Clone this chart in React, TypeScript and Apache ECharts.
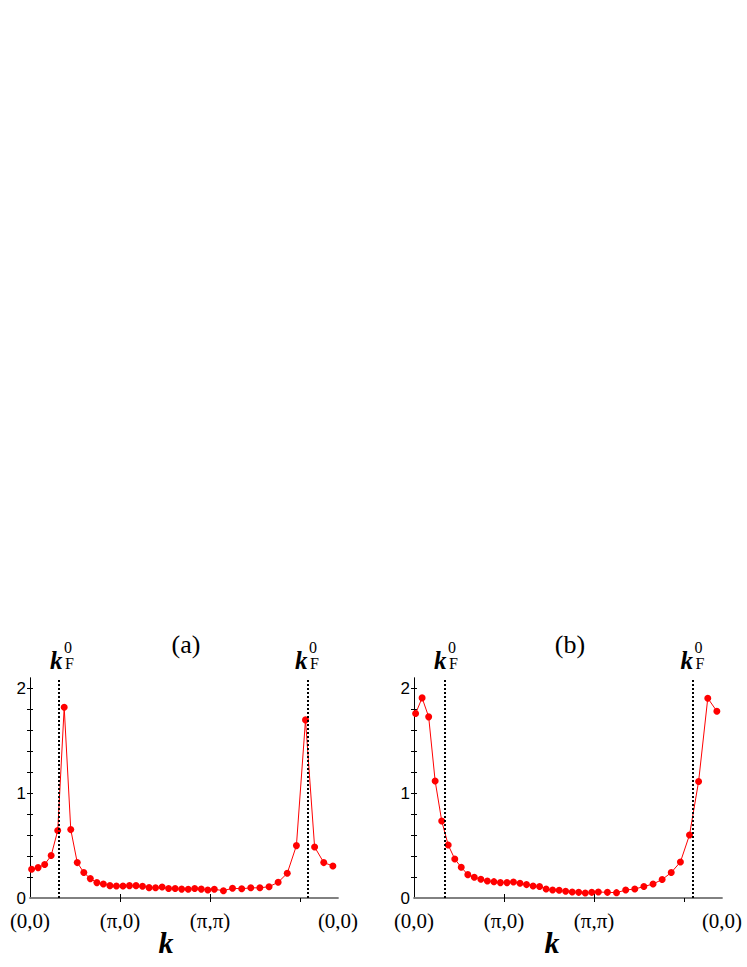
import React, { useEffect, useRef } from "react";
import * as echarts from "echarts";

// k-path position of each lattice point, in units where (π,0)=1, (π,π)=2
const kPathX = [
  0.018, 0.09, 0.163, 0.235, 0.308, 0.38, 0.453, 0.525, 0.598, 0.67, 0.743,
  0.815, 0.888, 0.96, 1.033, 1.105, 1.178, 1.25, 1.323, 1.395, 1.468, 1.54,
  1.613, 1.685, 1.758, 1.83, 1.903, 1.975, 2.048, 2.149, 2.25, 2.352, 2.453,
  2.554, 2.656, 2.757, 2.858, 2.96, 3.061, 3.162, 3.264, 3.365,
];

const valuesA = [
  0.274, 0.29, 0.32, 0.405, 0.644, 1.82, 0.653, 0.338, 0.243, 0.185, 0.147,
  0.134, 0.118, 0.115, 0.115, 0.118, 0.118, 0.112, 0.099, 0.097, 0.105, 0.09,
  0.09, 0.085, 0.083, 0.09, 0.085, 0.077, 0.083, 0.07, 0.093, 0.088, 0.097,
  0.097, 0.108, 0.15, 0.236, 0.5, 1.7, 0.487, 0.338, 0.306,
];

const valuesB = [
  1.761, 1.91, 1.729, 1.117, 0.735, 0.506, 0.372, 0.293, 0.223, 0.198, 0.179,
  0.162, 0.156, 0.147, 0.147, 0.153, 0.14, 0.128, 0.115, 0.109, 0.086, 0.076,
  0.074, 0.064, 0.057, 0.054, 0.048, 0.054, 0.057, 0.054, 0.051, 0.076, 0.086,
  0.109, 0.134, 0.176, 0.243, 0.344, 0.602, 1.112, 1.907, 1.783,
];

const fermiA = [0.322, 3.091];
const fermiB = [0.337, 3.097];

const xMax = 3.422;
const kTickValues = [0, 1, 2, 3.422];
const kTickLabels = ["(0,0)", "(π,0)", "(π,π)", "(0,0)"];
const bottomTickValues = [1, 2];
const topTickValues = [1, 2, 3];

const yMax = 2.1;
const yLabelValues = [0, 1, 2];
const yTickValues = [0.2, 0.4, 0.6, 0.8, 1, 1.2, 1.4, 1.6, 1.8, 2];

const panelTitles = ["(a)", "(b)"];

const SERIF = "'Liberation Serif', 'Times New Roman', serif";
const SANS = "'Liberation Sans', Arial, sans-serif";

function labelFor(v: number) {
  let best = 0;
  for (let i = 1; i < kTickValues.length; i++) {
    if (Math.abs(kTickValues[i] - v) < Math.abs(kTickValues[best] - v)) best = i;
  }
  return kTickLabels[best];
}

export default function App() {
  const ref = useRef<HTMLDivElement>(null);

  useEffect(() => {
    if (!ref.current) return;
    const chart = echarts.init(ref.current, null, { renderer: "svg" });

    const grids = [
      { left: 30, top: 678, width: 308, height: 220, outerBoundsMode: "none" },
      { left: 414, top: 678, width: 308, height: 220, outerBoundsMode: "none" },
    ];

    const xAxes: any[] = [];
    const yAxes: any[] = [];
    [0, 1].forEach((g) => {
      xAxes.push({
        gridIndex: g,
        type: "value",
        min: 0,
        max: xMax,
        position: "bottom",
        axisLine: { show: true, lineStyle: { color: "#7a7a7a", width: 1.5 } },
        axisTick: {
          show: true,
          inside: true,
          length: 4,
          customValues: bottomTickValues,
          lineStyle: { color: "#000", width: 1 },
        },
        axisLabel: {
          show: true,
          customValues: kTickValues,
          formatter: (v: number) => labelFor(v),
          fontFamily: SERIF,
          fontSize: 21,
          color: "#000",
          margin: 12,
        },
        splitLine: { show: false },
      });
      xAxes.push({
        gridIndex: g,
        type: "value",
        min: 0,
        max: xMax,
        position: "top",
        axisLine: { show: true, lineStyle: { color: "#7a7a7a", width: 1.5 } },
        axisTick: {
          show: true,
          inside: true,
          length: 4,
          customValues: topTickValues,
          lineStyle: { color: "#000", width: 1 },
        },
        axisLabel: { show: false },
        splitLine: { show: false },
      });
      yAxes.push({
        gridIndex: g,
        type: "value",
        min: 0,
        max: yMax,
        position: "left",
        axisLine: { show: true, lineStyle: { color: "#000", width: 1 } },
        axisTick: {
          show: true,
          inside: true,
          length: 3,
          customValues: yTickValues,
          lineStyle: { color: "#000", width: 1 },
        },
        axisLabel: {
          show: true,
          customValues: yLabelValues,
          fontFamily: SANS,
          fontSize: 17,
          color: "#000",
          margin: 4,
        },
        splitLine: { show: false },
      });
      yAxes.push({
        gridIndex: g,
        type: "value",
        min: 0,
        max: yMax,
        position: "right",
        axisLine: { show: true, lineStyle: { color: "#000", width: 1 } },
        axisTick: {
          show: true,
          inside: true,
          length: 3,
          customValues: yTickValues,
          lineStyle: { color: "#000", width: 1 },
        },
        axisLabel: { show: false },
        splitLine: { show: false },
      });
    });

    const makeSeries = (g: number, values: number[], fermi: number[]) => ({
      type: "line",
      xAxisIndex: g * 2,
      yAxisIndex: g * 2,
      data: kPathX.map((x, i) => [x, values[i]]),
      symbol: "circle",
      symbolSize: 7,
      showSymbol: true,
      lineStyle: { color: "#ff0000", width: 1 },
      itemStyle: { color: "#ff0000" },
      markLine: {
        silent: true,
        symbol: ["none", "none"],
        label: { show: false },
        lineStyle: { color: "#000", type: [2, 2], width: 2 },
        data: fermi.map((v) => ({ xAxis: v })),
      },
      z: 3,
    });

    const kfLabel = (x: number) => [
      {
        type: "text",
        style: {
          x,
          y: 660,
          text: "k",
          font: `bold italic 25px ${SERIF}`,
          fill: "#000",
          textAlign: "left",
          textVerticalAlign: "middle",
        },
      },
      {
        type: "text",
        style: {
          x: x + 15,
          y: 663,
          text: "F",
          font: `16px ${SERIF}`,
          fill: "#000",
          textAlign: "left",
          textVerticalAlign: "middle",
        },
      },
      {
        type: "text",
        style: {
          x: x + 14,
          y: 647.5,
          text: "0",
          font: `16px ${SERIF}`,
          fill: "#000",
          textAlign: "left",
          textVerticalAlign: "middle",
        },
      },
    ];

    const titleText = (x: number, t: string) => ({
      type: "text",
      style: {
        x,
        y: 644,
        text: t,
        font: `26px ${SERIF}`,
        fill: "#000",
        textAlign: "center",
        textVerticalAlign: "middle",
      },
    });

    const kAxisName = (x: number) => ({
      type: "text",
      style: {
        x,
        y: 942,
        text: "k",
        font: `bold italic 30px ${SERIF}`,
        fill: "#000",
        textAlign: "center",
        textVerticalAlign: "middle",
      },
    });

    chart.setOption({
      animation: false,
      backgroundColor: "#fff",
      grid: grids,
      xAxis: xAxes,
      yAxis: yAxes,
      series: [makeSeries(0, valuesA, fermiA), makeSeries(1, valuesB, fermiB)],
      graphic: [
        titleText(186, panelTitles[0]),
        titleText(570, panelTitles[1]),
        ...kfLabel(50),
        ...kfLabel(295),
        ...kfLabel(434),
        ...kfLabel(680.5),
        kAxisName(166),
        kAxisName(552),
      ],
    });

    return () => chart.dispose();
  }, []);

  return (
    <div
      ref={ref}
      style={{ position: "absolute", left: 0, top: 0, width: 747, height: 967 }}
    />
  );
}
